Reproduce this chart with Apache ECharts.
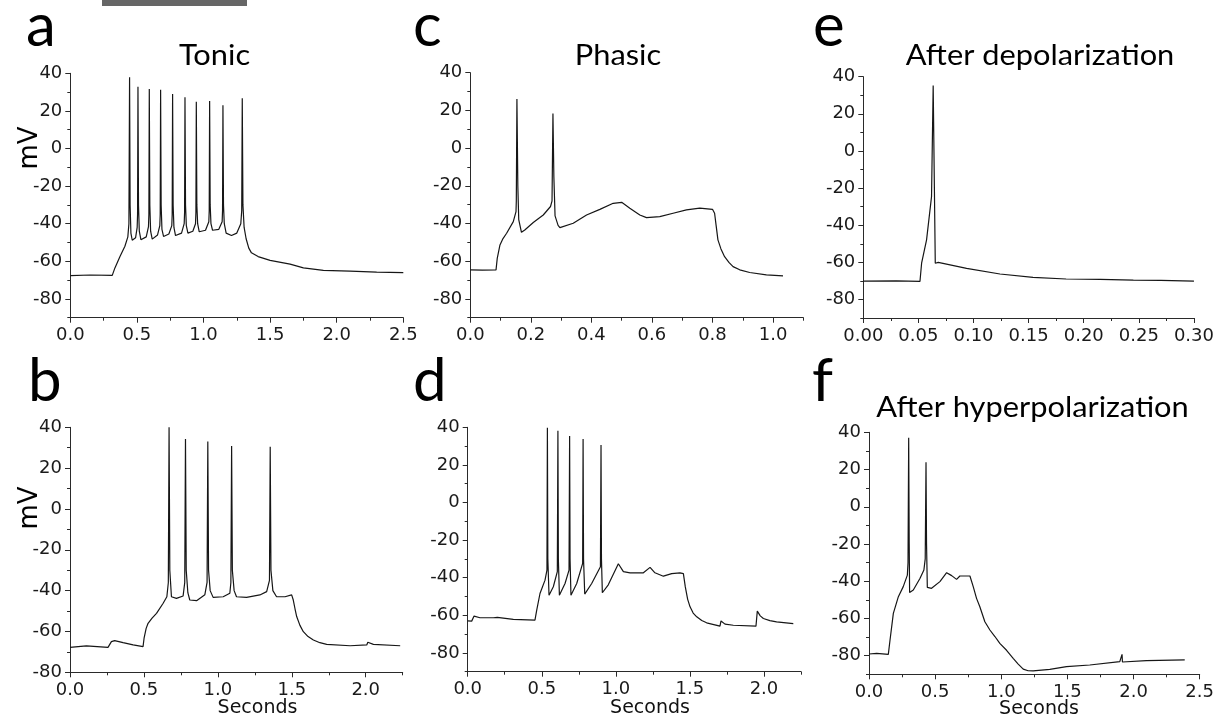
<!DOCTYPE html>
<html>
<head>
<meta charset="utf-8">
<script src="https://cdn.jsdelivr.net/npm/echarts@6/dist/echarts.min.js"></script>
<style>
html,body{margin:0;padding:0;background:#fff;}
#chart{width:1217px;height:718px;}
</style>
</head>
<body>
<div id="chart"></div>
<script>
// ---------- DATA ----------
const panelLetters = ['a', 'b', 'c', 'd', 'e', 'f'];
const panelTitles = ['Tonic', '', 'Phasic', '', 'After depolarization', 'After hyperpolarization'];
const yLabelText = 'mV';
const xLabelText = 'Seconds';

// membrane potential traces: [seconds, mV]
const traceA = [
  [0,-67.6],[0.15,-67.3],[0.315,-67.5],[0.335,-63.5],[0.373,-57.5],[0.41,-52],[0.432,-47],[0.44,-40],
  [0.445,37.9],[0.449,-30],[0.455,-45],[0.465,-48.8],[0.49,-47.5],[0.502,-42],[0.505,-35],
  [0.508,32.9],[0.512,-30],[0.518,-44],[0.53,-48.5],[0.57,-47],[0.587,-41.5],[0.59,-35],
  [0.593,31.7],[0.597,-30],[0.603,-44],[0.615,-48.2],[0.655,-46],[0.672,-41],[0.675,-35],
  [0.678,31.3],[0.682,-30],[0.688,-43],[0.70,-46.8],[0.74,-45.5],[0.762,-41],[0.765,-35],
  [0.768,29],[0.772,-30],[0.778,-42],[0.79,-46.3],[0.835,-45],[0.855,-40],[0.858,-34],
  [0.861,27.2],[0.865,-30],[0.871,-41],[0.883,-45],[0.92,-44],[0.94,-40],[0.943,-34],
  [0.946,24.9],[0.95,-30],[0.956,-40],[0.968,-44.3],[1.015,-43.5],[1.04,-39],[1.043,-33],
  [1.046,25.3],[1.05,-30],[1.056,-40],[1.068,-43.5],[1.115,-43],[1.14,-39],[1.143,-33],
  [1.146,23],[1.15,-30],[1.156,-40],[1.17,-45],[1.21,-46.3],[1.25,-45],[1.28,-40],[1.287,-33],
  [1.291,26.7],[1.296,-30],[1.305,-42],[1.32,-48],[1.34,-53],[1.36,-55.5],[1.41,-57.5],[1.5,-59.5],
  [1.6,-60.8],[1.65,-61.5],[1.75,-63.5],[1.9,-64.8],[2.1,-65.2],[2.3,-65.8],[2.5,-66]
];
const traceB = [
  [0,-67.8],[0.111,-67.1],[0.257,-67.8],[0.28,-65],[0.302,-64.5],[0.359,-65.5],[0.427,-66.6],
  [0.494,-67.4],[0.501,-63.3],[0.515,-58.5],[0.528,-56],[0.555,-53.5],[0.585,-51.1],[0.63,-46.2],[0.655,-43],[0.665,-36],
  [0.67,40],[0.675,-30],[0.686,-43],[0.72,-43.8],[0.765,-42.6],[0.776,-36],
  [0.781,34.3],[0.786,-30],[0.797,-41],[0.81,-44.6],[0.856,-44.9],[0.912,-42],[0.927,-36],
  [0.932,33.1],[0.937,-30],[0.948,-40],[0.968,-43.3],[1.036,-43],[1.081,-41.3],[1.088,-36],
  [1.093,30.9],[1.098,-30],[1.11,-40],[1.126,-43],[1.194,-43.3],[1.284,-42.1],[1.33,-40.5],[1.349,-35],
  [1.354,30.5],[1.359,-30],[1.372,-40],[1.397,-43],[1.454,-43],[1.499,-42.1],[1.51,-44.6],
  [1.522,-49],[1.533,-52.7],[1.555,-57],[1.578,-60.1],[1.61,-62.5],[1.646,-64.2],[1.69,-65.5],[1.736,-66.3],
  [1.894,-67],[2.007,-66.6],[2.014,-65.3],[2.052,-66.3],[2.233,-67]
];
const traceC = [
  [0,-64.6],[0.04,-64.8],[0.085,-64.6],[0.089,-58.5],[0.098,-51.4],[0.108,-48],[0.12,-45.2],[0.142,-39],
  [0.151,-33.7],[0.152,-28],[0.154,26],[0.157,-20],[0.16,-38],[0.169,-44.7],[0.18,-43.5],
  [0.208,-39.5],[0.241,-35.5],[0.265,-31],[0.27,-28],[0.273,18.3],[0.276,-15],[0.28,-36],
  [0.29,-41],[0.296,-42.2],[0.34,-39.9],[0.384,-35.5],[0.428,-32.5],[0.472,-29.3],[0.5,-28.8],
  [0.527,-31.9],[0.56,-35.5],[0.582,-36.9],[0.626,-36.4],[0.67,-34.6],[0.714,-32.8],
  [0.758,-31.9],[0.8,-32.5],[0.807,-34.6],[0.812,-41],[0.818,-48.7],[0.828,-53.5],[0.84,-57.6],
  [0.855,-60.8],[0.868,-62.9],[0.89,-64.6],[0.923,-66],[0.978,-67.3],[1.033,-67.8]
];
const traceD = [
  [0,-63],[0.027,-63.1],[0.043,-60.4],[0.083,-61.3],[0.173,-61.3],[0.184,-60.5],[0.2,-61.1],
  [0.308,-62.2],[0.454,-62.6],[0.466,-57.3],[0.488,-48.4],[0.522,-41.3],[0.535,-36],
  [0.538,39.8],[0.541,-30],[0.549,-49.3],[0.578,-44.8],[0.605,-36.8],
  [0.609,38.2],[0.612,-30],[0.619,-49.3],[0.657,-43.1],[0.684,-36],
  [0.688,35.4],[0.691,-30],[0.697,-49.3],[0.736,-43.1],[0.776,-32.4],
  [0.779,33.8],[0.782,-30],[0.79,-48.7],[0.837,-43.1],[0.896,-34.2],
  [0.9,30.6],[0.903,-30],[0.909,-48],[0.949,-43.8],[1.017,-32.6],[1.051,-36.8],[1.096,-37.4],
  [1.186,-37.4],[1.231,-34.5],[1.264,-37.4],[1.321,-39.2],[1.377,-37.8],[1.433,-37.4],
  [1.456,-37.8],[1.469,-44.9],[1.485,-51.5],[1.501,-55.5],[1.522,-58.8],[1.546,-60.8],[1.58,-62.8],
  [1.613,-64],[1.703,-65.8],[1.71,-63],[1.737,-64.7],[1.793,-65.3],[1.946,-65.8],[1.955,-57.8],
  [1.975,-60.3],[1.996,-61.7],[2.04,-62.8],[2.085,-63.5],[2.198,-64.4]
];
const traceE = [
  [0,-70.1],[0.03,-70],[0.0514,-70.3],[0.0529,-60.5],[0.0574,-47.9],[0.0619,-24.6],
  [0.0634,35.2],[0.0645,-20],[0.0653,-60.5],[0.068,-60],[0.0937,-63.3],[0.124,-66.3],
  [0.154,-68.1],[0.184,-69],[0.215,-69.2],[0.245,-69.6],[0.27,-69.7],[0.30,-70.1]
];
const traceF = [
  [0,-79.1],[0.058,-78.8],[0.146,-79.3],[0.159,-71.6],[0.184,-57.3],[0.222,-48.3],[0.259,-42.9],
  [0.29,-36.7],[0.295,-30],[0.3,37.1],[0.304,-20],[0.307,-46],[0.335,-44.7],[0.385,-38.5],
  [0.415,-34],[0.425,-28],[0.431,23.9],[0.435,-20],[0.441,-43.3],[0.473,-43.8],[0.536,-40.2],
  [0.587,-35.4],[0.625,-37],[0.662,-39],[0.687,-37.2],[0.763,-37.2],[0.775,-36.7],[0.788,-42.9],
  [0.813,-49.2],[0.838,-53.7],[0.876,-61.8],[0.914,-66.2],[0.952,-69.7],[0.989,-73.4],
  [1.04,-77.1],[1.09,-81.4],[1.128,-84.5],[1.166,-87.2],[1.203,-88.1],[1.241,-88.2],
  [1.367,-87.4],[1.493,-85.9],[1.669,-85],[1.896,-83.2],[1.911,-83.3],[1.913,-79.3],
  [1.916,-83.4],[2.097,-82.7],[2.387,-82.3]
];

// axis ticks
const xMajorA = [0, 0.5, 1.0, 1.5, 2.0, 2.5];
const xMinorA = [0.25, 0.75, 1.25, 1.75, 2.25];
const xMajorB = [0, 0.5, 1.0, 1.5, 2.0];
const xMinorB = [0.25, 0.75, 1.25, 1.75, 2.25];
const xMajorC = [0, 0.2, 0.4, 0.6, 0.8, 1.0];
const xMinorC = [0.1, 0.3, 0.5, 0.7, 0.9, 1.1];
const xMajorE = [0, 0.05, 0.10, 0.15, 0.20, 0.25, 0.30];
const xMinorE = [0.025, 0.075, 0.125, 0.175, 0.225, 0.275];
const xMajorF = [0, 0.5, 1.0, 1.5, 2.0, 2.5];
const xMinorF = [0.25, 0.75, 1.25, 1.75, 2.25];
const yMajor = [-80, -60, -40, -20, 0, 20, 40];
const yMinor90 = [-90, -70, -50, -30, -10, 10, 30];
const yMinor80 = [-70, -50, -30, -10, 10, 30];

// ---------- LAYOUT ----------
const panels = [
  {data: traceA, grid: {left: 70.3, top: 73.3, width: 333, height: 244.4}, xMin: 0, xMax: 2.5, xMaj: xMajorA, xMin_: xMinorA, dec: 1, yMin: -90, yMinT: yMinor90},
  {data: traceB, grid: {left: 70, top: 427.3, width: 332.7, height: 245}, xMin: 0, xMax: 2.25, xMaj: xMajorB, xMin_: xMinorB, dec: 1, yMin: -80, yMinT: yMinor80},
  {data: traceC, grid: {left: 470.3, top: 72.7, width: 333, height: 245}, xMin: 0, xMax: 1.1, xMaj: xMajorC, xMin_: xMinorC, dec: 1, yMin: -90, yMinT: yMinor90},
  {data: traceD, grid: {left: 467.7, top: 427.3, width: 333.3, height: 244.4}, xMin: 0, xMax: 2.25, xMaj: xMajorB, xMin_: xMinorB, dec: 1, yMin: -90, yMinT: yMinor90},
  {data: traceE, grid: {left: 863.3, top: 76.7, width: 331, height: 241.3}, xMin: 0, xMax: 0.30, xMaj: xMajorE, xMin_: xMinorE, dec: 2, yMin: -90, yMinT: yMinor90},
  {data: traceF, grid: {left: 869, top: 432.3, width: 331, height: 242}, xMin: 0, xMax: 2.5, xMaj: xMajorF, xMin_: xMinorF, dec: 1, yMin: -90, yMinT: yMinor90}
];

const TICK_FONT = 'DejaVu Sans';
const TITLE_FONT = 'Lato';
const AX_COLOR = '#2a2a2a';
const LABEL_COLOR = '#1a1a1a';

const grids = [], xAxes = [], yAxes = [], series = [];
panels.forEach((p, i) => {
  grids.push(Object.assign({containLabel: false}, p.grid));
  xAxes.push({
    type: 'value', gridIndex: i, min: p.xMin, max: p.xMax, position: 'bottom',
    axisLine: {show: true, onZero: false, lineStyle: {color: AX_COLOR, width: 1}},
    axisTick: {show: true, inside: false, length: 5, customValues: p.xMaj, lineStyle: {color: AX_COLOR}},
    axisLabel: {show: true, customValues: p.xMaj, margin: 9, color: LABEL_COLOR, fontFamily: TICK_FONT, fontSize: 18,
      formatter: v => Number(v).toFixed(p.dec)},
    splitLine: {show: false}
  });
  xAxes.push({
    type: 'value', gridIndex: i, min: p.xMin, max: p.xMax, position: 'bottom',
    axisLine: {show: false, onZero: false},
    axisTick: {show: true, inside: false, length: 3, customValues: p.xMin_, lineStyle: {color: AX_COLOR}},
    axisLabel: {show: false}, splitLine: {show: false}
  });
  yAxes.push({
    type: 'value', gridIndex: i, min: p.yMin, max: 40, position: 'left',
    axisLine: {show: true, onZero: false, lineStyle: {color: AX_COLOR, width: 1}},
    axisTick: {show: true, inside: false, length: 5, customValues: yMajor, lineStyle: {color: AX_COLOR}},
    axisLabel: {show: true, customValues: yMajor, margin: 8, color: LABEL_COLOR, fontFamily: TICK_FONT, fontSize: 18},
    splitLine: {show: false}
  });
  yAxes.push({
    type: 'value', gridIndex: i, min: p.yMin, max: 40, position: 'left',
    axisLine: {show: false, onZero: false},
    axisTick: {show: true, inside: false, length: 3, customValues: p.yMinT, lineStyle: {color: AX_COLOR}},
    axisLabel: {show: false}, splitLine: {show: false}
  });
  series.push({
    type: 'line', xAxisIndex: 2 * i, yAxisIndex: 2 * i, data: p.data,
    showSymbol: false, symbol: 'none', smooth: false, clip: true,
    lineStyle: {color: '#161616', width: 1.2}
  });
});

// texts
const letterPos = [[26, 27], [28, 382], [413, 27], [413, 382], [813, 27], [812, 382]];
const titlePos = [[214.5, 56], null, [618, 56], null, [1040, 56], [1032.5, 408]];
const graphics = [
  {type: 'rect', shape: {x: 102, y: 0, width: 145, height: 6}, style: {fill: '#666666'}}
];
panelLetters.forEach((l, i) => {
  graphics.push({type: 'text', x: letterPos[i][0], y: letterPos[i][1],
    style: {text: l, fill: '#000', font: 'normal 60px ' + TITLE_FONT, textAlign: 'left', textVerticalAlign: 'middle', align: 'left', verticalAlign: 'middle'}});
  if (panelTitles[i]) {
    graphics.push({type: 'text', x: titlePos[i][0], y: titlePos[i][1], scaleX: 1.1,
      style: {text: panelTitles[i], fill: '#000', font: 'normal 28px ' + TITLE_FONT, textAlign: 'center', textVerticalAlign: 'middle', align: 'center', verticalAlign: 'middle'}});
  }
});
[[30, 148], [30, 508]].forEach(pos => {
  graphics.push({type: 'text', x: pos[0], y: pos[1], rotation: Math.PI / 2,
    style: {text: yLabelText, fill: '#000', font: 'normal 26px ' + TICK_FONT, textAlign: 'center', textVerticalAlign: 'middle', align: 'center', verticalAlign: 'middle'}});
});
[[257.5, 708], [650, 708], [1039, 709]].forEach(pos => {
  graphics.push({type: 'text', x: pos[0], y: pos[1],
    style: {text: xLabelText, fill: '#111', font: 'normal 19px ' + TICK_FONT, textAlign: 'center', textVerticalAlign: 'middle', align: 'center', verticalAlign: 'middle'}});
});

const chart = echarts.init(document.getElementById('chart'), null, {renderer: 'canvas'});
chart.setOption({
  animation: false,
  backgroundColor: '#ffffff',
  grid: grids, xAxis: xAxes, yAxis: yAxes, series: series,
  graphic: {elements: graphics}
});
</script>
</body>
</html>
